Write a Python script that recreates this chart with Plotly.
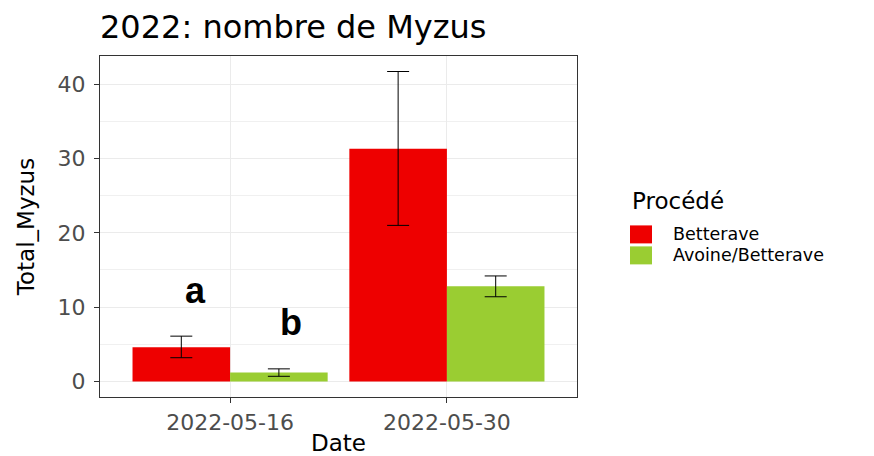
import plotly.graph_objects as go

# ---- data ----
dates = ["2022-05-16", "2022-05-30"]
series_names = ["Betterave", "Avoine/Betterave"]
betterave = [4.6, 31.3]
betterave_lo = [3.2, 21.0]
betterave_hi = [6.1, 41.7]
avoine = [1.2, 12.8]
avoine_lo = [0.7, 11.4]
avoine_hi = [1.7, 14.2]
y_ticks = [0, 10, 20, 30, 40]
y_minor = [5, 15, 25, 35]
letters = ["a", "b"]
letter_x = [-0.16, 0.28]
letter_y = [12.2, 8.0]

colors = ["#EE0000", "#9ACD32"]
FONT = "DejaVu Sans"

# page body has an 8px margin: work in screenshot pixels and shift
OFF = 8
W, H = 874 - OFF, 456 - OFF
ML, MR, MT, MB = 100 - OFF, 874 - 577, 55.5 - OFF, 456 - 396.7


def bar_trace(name, vals, lo, hi, color):
    return go.Bar(
        x=[0, 1], y=vals, name=name, marker=dict(color=color, line=dict(width=0)),
        error_y=dict(type="data", symmetric=False,
                     array=[h - v for h, v in zip(hi, vals)],
                     arrayminus=[v - l for v, l in zip(vals, lo)],
                     color="black", thickness=1, width=11),
        showlegend=False,
    )


fig = go.Figure()
fig.add_trace(bar_trace(series_names[0], betterave, betterave_lo, betterave_hi, colors[0]))
fig.add_trace(bar_trace(series_names[1], avoine, avoine_lo, avoine_hi, colors[1]))

for t, xv, yv in zip(letters, letter_x, letter_y):
    fig.add_annotation(x=xv, y=yv, text=f"<b>{t}</b>", showarrow=False,
                       font=dict(family="Liberation Sans Narrow, Liberation Sans, Arial", size=36, color="black"),
                       xanchor="center", yanchor="middle")

# manual legend (ggplot style keys); coordinates given in screenshot pixels
pw = W - ML - MR
ph = H - MT - MB


def px_x(px):
    return (px - OFF - ML) / pw


def px_y(py):
    return (H - MB - (py - OFF)) / ph


fig.add_annotation(xref="paper", yref="paper", x=px_x(630), y=px_y(201), text="Procédé",
                   showarrow=False, xanchor="left", yanchor="middle",
                   font=dict(family=FONT, size=23, color="black"))
key_tops = [225, 246]
for i, (nm, col) in enumerate(zip(series_names, colors)):
    top = key_tops[i]
    fig.add_shape(type="rect", xref="paper", yref="paper",
                  x0=px_x(630), x1=px_x(652), y0=px_y(top + 18), y1=px_y(top),
                  fillcolor=col, line=dict(width=0))
    fig.add_annotation(xref="paper", yref="paper", x=px_x(671), y=px_y(top + 9), text=nm,
                       showarrow=False, xanchor="left", yanchor="middle",
                       font=dict(family=FONT, size=17.5, color="black"))

fig.update_layout(
    width=W, height=H,
    margin=dict(l=ML, r=MR, t=MT, b=MB, autoexpand=False),
    paper_bgcolor="white", plot_bgcolor="white",
    barmode="group", bargap=0.1, bargroupgap=0,
    title=dict(text="2022: nombre de Myzus", x=(100 - OFF) / W, xanchor="left", xref="container",
               y=1 - (27 - OFF) / H, yanchor="middle", yref="container",
               font=dict(family=FONT, size=32, color="black")),
    font=dict(family=FONT),
)

fig.update_xaxes(
    range=[-0.6, 1.6], tickmode="array", tickvals=[0, 1], ticktext=dates,
    showgrid=True, gridcolor="#EBEBEB", gridwidth=1.3,
    showline=True, linecolor="#333333", linewidth=1.2, mirror=True,
    ticks="outside", ticklen=5, tickcolor="#333333", tickwidth=1.2,
    tickfont=dict(family=FONT, size=22, color="#4D4D4D"),
    title=dict(text="Date", font=dict(family=FONT, size=23, color="black"), standoff=8),
    zeroline=False,
)
fig.update_yaxes(
    range=[-2.085, 43.785], tickmode="array", tickvals=y_ticks,
    showgrid=True, gridcolor="#EBEBEB", gridwidth=1.3,
    minor=dict(tickmode="array", tickvals=y_minor, showgrid=True,
               gridcolor="#F0F0F0", gridwidth=0.9, ticks=""),
    showline=True, linecolor="#333333", linewidth=1.2, mirror=True,
    ticks="outside", ticklen=5, tickcolor="#333333", tickwidth=1.2,
    tickfont=dict(family=FONT, size=22, color="#4D4D4D"),
    ticklabelstandoff=4,
    title=dict(text="Total_Myzus", font=dict(family=FONT, size=23, color="black"), standoff=16),
    zeroline=False,
)

fig.write_html("out.html")
